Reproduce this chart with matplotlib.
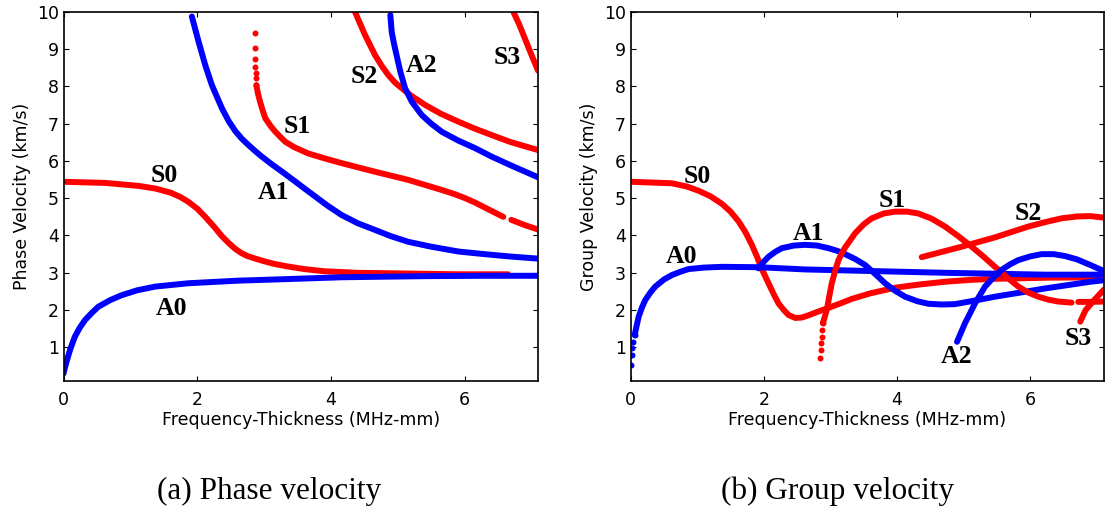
import numpy as np
import matplotlib.pyplot as plt

plt.rcParams['font.family'] = ['DejaVu Sans']

RED = (1.0, 0.0, 0.0)
BLUE = (0.0, 0.0, 1.0)

# ---- phase velocity dispersion curves (fd in MHz-mm, cp in km/s) ----
ph_S0_fd = [0.0, 0.62, 1.12, 1.37, 1.6, 1.75, 1.87, 2.0, 2.12, 2.25, 2.37, 2.47, 2.57, 2.66, 2.75, 2.87,
            3.0, 3.15, 3.32, 3.6, 3.91, 4.4, 5.16, 5.9, 6.65]
ph_S0_v = [5.44, 5.41, 5.33, 5.26, 5.15, 5.03, 4.9, 4.72, 4.5, 4.24, 3.98, 3.8, 3.64, 3.53, 3.45, 3.38,
           3.31, 3.24, 3.18, 3.1, 3.04, 3.0, 2.98, 2.96, 2.96]

ph_A0_fd = [0.0, 0.02, 0.05, 0.1, 0.17, 0.24, 0.32, 0.42, 0.52, 0.7, 0.87, 1.1, 1.37, 1.87, 2.62, 3.32,
            4.16, 5.41, 6.3, 7.1]
ph_A0_v = [0.3, 0.45, 0.65, 0.95, 1.29, 1.52, 1.73, 1.92, 2.09, 2.27, 2.4, 2.53, 2.63, 2.72, 2.79, 2.83,
           2.88, 2.91, 2.92, 2.92]

ph_A1_fd = [1.92, 2.02, 2.12, 2.22, 2.37, 2.47, 2.57, 2.67, 2.77, 2.87, 2.97, 3.1, 3.27, 3.45, 3.62, 3.8,
            3.95, 4.16, 4.4, 4.66, 4.9, 5.16, 5.5, 5.91, 6.3, 6.66, 7.1]
ph_A1_v = [9.87, 9.2, 8.57, 8.03, 7.41, 7.07, 6.8, 6.59, 6.42, 6.26, 6.11, 5.93, 5.71, 5.47, 5.24, 5.0,
           4.8, 4.55, 4.33, 4.15, 3.98, 3.83, 3.7, 3.57, 3.5, 3.44, 3.38]

ph_S1_top_fd = [2.86, 2.865, 2.865, 2.87, 2.875, 2.88, 2.885]
ph_S1_top_v = [9.42, 9.02, 8.73, 8.53, 8.35, 8.21, 8.03]
ph_S1_fd = [2.885, 2.91, 2.94, 2.98, 3.02, 3.1, 3.17, 3.25, 3.32, 3.45, 3.66, 3.9, 4.16, 4.66, 5.16,
            5.4, 5.66, 5.85, 6.01, 6.16, 6.38, 6.58]
ph_S1_v = [8.03, 7.8, 7.59, 7.35, 7.14, 6.93, 6.78, 6.63, 6.51, 6.37, 6.2, 6.07, 5.94, 5.71, 5.49,
           5.36, 5.22, 5.11, 5.0, 4.88, 4.68, 4.5]
ph_S1b_fd = [6.7, 6.9, 7.1]
ph_S1b_v = [4.42, 4.28, 4.16]

ph_S2_fd = [4.36, 4.51, 4.66, 4.76, 4.86, 4.96, 5.06, 5.2, 5.41, 5.65, 5.91, 6.16, 6.41, 6.68, 7.1]
ph_S2_v = [10.0, 9.38, 8.84, 8.55, 8.3, 8.1, 7.95, 7.75, 7.5, 7.26, 7.05, 6.86, 6.69, 6.51, 6.29]

ph_A2_fd = [4.89, 4.9, 4.91, 4.935, 4.96, 5.0, 5.04, 5.11, 5.21, 5.36, 5.5, 5.66, 5.9, 6.16, 6.4, 6.68, 7.1]
ph_A2_v = [9.91, 9.7, 9.46, 9.23, 9.02, 8.7, 8.39, 7.95, 7.59, 7.23, 7.0, 6.78, 6.55, 6.34, 6.12, 5.89, 5.56]

ph_S3_fd = [6.73, 6.82, 6.91, 7.0, 7.1]
ph_S3_v = [10.0, 9.65, 9.25, 8.85, 8.42]

# ---- group velocity dispersion curves ----
gr_S0_fd = [0.0, 0.62, 0.85, 1.02, 1.2, 1.37, 1.5, 1.62, 1.72, 1.82, 1.9, 1.97, 2.07, 2.15, 2.22, 2.3,
            2.37, 2.47, 2.57, 2.67, 2.8, 2.97, 3.15, 3.32, 3.6, 3.97, 4.35, 4.72, 5.1, 5.47, 6.3, 7.1]
gr_S0_v = [5.44, 5.4, 5.31, 5.2, 5.05, 4.85, 4.64, 4.38, 4.1, 3.75, 3.42, 3.1, 2.72, 2.42, 2.18, 2.0,
           1.87, 1.79, 1.8, 1.86, 1.95, 2.06, 2.18, 2.3, 2.45, 2.6, 2.69, 2.76, 2.81, 2.84, 2.87, 2.88]

gr_A0_dots_fd = [0.01, 0.015, 0.025, 0.04, 0.06]
gr_A0_dots_v = [0.53, 0.8, 0.98, 1.15, 1.33]
gr_A0_fd = [0.06, 0.12, 0.17, 0.22, 0.3, 0.37, 0.5, 0.62, 0.75, 0.87, 1.1, 1.37, 1.92, 2.62, 3.32,
            4.72, 6.22, 7.1]
gr_A0_v = [1.33, 1.82, 2.07, 2.27, 2.48, 2.63, 2.82, 2.94, 3.03, 3.1, 3.14, 3.16, 3.15, 3.09, 3.06,
           3.0, 2.95, 2.95]

gr_A1_fd = [1.92, 2.0, 2.07, 2.17, 2.27, 2.45, 2.62, 2.8, 2.97, 3.1, 3.22, 3.37, 3.52, 3.67, 3.82, 3.97,
            4.12, 4.3, 4.47, 4.67, 4.87, 5.15, 5.47, 5.85, 6.22, 6.6, 6.9, 7.1]
gr_A1_v = [3.12, 3.3, 3.43, 3.56, 3.66, 3.73, 3.75, 3.73, 3.66, 3.59, 3.5, 3.37, 3.21, 2.97, 2.72, 2.52,
           2.36, 2.24, 2.17, 2.15, 2.16, 2.25, 2.36, 2.47, 2.58, 2.68, 2.76, 2.8]

gr_S1_dots_fd = [2.85, 2.86, 2.865, 2.87, 2.875, 2.885]
gr_S1_dots_v = [0.71, 0.93, 1.11, 1.29, 1.47, 1.65]
gr_S1_fd = [2.885, 2.92, 2.95, 2.98, 3.02, 3.07, 3.12, 3.17, 3.22, 3.3, 3.37, 3.5, 3.62, 3.8, 3.97,
            4.15, 4.32, 4.52, 4.72, 4.92, 5.12, 5.3, 5.47, 5.65, 5.82, 5.97, 6.12, 6.27, 6.42, 6.62]
gr_S1_v = [1.65, 1.85, 2.05, 2.35, 2.72, 3.05, 3.34, 3.52, 3.68, 3.88, 4.06, 4.3, 4.46, 4.59, 4.64,
           4.64, 4.59, 4.45, 4.24, 3.98, 3.7, 3.43, 3.16, 2.88, 2.63, 2.47, 2.36, 2.28, 2.23, 2.2]
gr_S1b_fd = [6.72, 6.9, 7.1]
gr_S1b_v = [2.22, 2.22, 2.23]

gr_S2_fd = [4.37, 4.97, 5.47, 5.97, 6.25, 6.47, 6.7, 6.9, 7.1]
gr_S2_v = [3.42, 3.7, 3.95, 4.24, 4.37, 4.46, 4.51, 4.52, 4.48]

gr_A2_fd = [4.9, 4.96, 5.02, 5.1, 5.17, 5.25, 5.32, 5.45, 5.57, 5.7, 5.82, 6.0, 6.17, 6.35, 6.52, 6.7,
            6.9, 7.1]
gr_A2_v = [1.15, 1.4, 1.65, 1.93, 2.18, 2.42, 2.63, 2.88, 3.08, 3.23, 3.34, 3.44, 3.5, 3.5, 3.45, 3.36,
           3.21, 3.05]

gr_S3_fd = [6.75, 6.83, 6.95, 7.1]
gr_S3_v = [1.69, 2.0, 2.25, 2.54]

LW = 4.3
MS = 4.3


def curve(ax, fd, v, color):
    ax.plot(fd, v, '-', color=color, lw=LW, solid_capstyle='round', solid_joinstyle='round')


def dots(ax, fd, v, color):
    ax.plot(fd, v, 'o', color=color, ms=MS, mew=0)


def style(ax, ylabel):
    ax.set_xlim(0, 7.1)
    ax.set_ylim(0.1, 10)
    ax.set_xticks([0, 2, 4, 6])
    ax.set_yticks(range(1, 11))
    ax.tick_params(direction='in', length=3.5, width=0.8, top=True, right=True,
                   labelsize=12.5, colors='black')
    ax.tick_params(axis='x', pad=7)
    ax.tick_params(axis='y', pad=3.5)
    for s in ax.spines.values():
        s.set_linewidth(1.2)
    ax.set_xlabel('Frequency-Thickness (MHz-mm)', fontsize=12.5, labelpad=2)
    ax.set_ylabel(ylabel, fontsize=12.5, labelpad=4)


def label(ax, x, y, txt):
    ax.text(x, y, txt, fontsize=18.5, fontweight='bold', family='Liberation Serif',
            ha='center', va='center')


fig = plt.figure(figsize=(11.05, 5.12), dpi=100)
ax1 = fig.add_axes([0.0575, 0.2559, 0.4294, 0.7213])
ax2 = fig.add_axes([0.5707, 0.2559, 0.4280, 0.7213])

# phase velocity
curve(ax1, ph_S0_fd, ph_S0_v, RED)
curve(ax1, ph_A0_fd, ph_A0_v, BLUE)
curve(ax1, ph_A1_fd, ph_A1_v, BLUE)
dots(ax1, ph_S1_top_fd, ph_S1_top_v, RED)
curve(ax1, ph_S1_fd, ph_S1_v, RED)
curve(ax1, ph_S1b_fd, ph_S1b_v, RED)
curve(ax1, ph_S2_fd, ph_S2_v, RED)
curve(ax1, ph_A2_fd, ph_A2_v, BLUE)
curve(ax1, ph_S3_fd, ph_S3_v, RED)
style(ax1, 'Phase Velocity (km/s)')
label(ax1, 1.5, 5.62, 'S0')
label(ax1, 1.61, 2.05, 'A0')
label(ax1, 3.14, 5.14, 'A1')
label(ax1, 3.49, 6.92, 'S1')
label(ax1, 4.5, 8.26, 'S2')
label(ax1, 5.36, 8.57, 'A2')
label(ax1, 6.64, 8.76, 'S3')

# group velocity
curve(ax2, gr_S0_fd, gr_S0_v, RED)
dots(ax2, gr_A0_dots_fd, gr_A0_dots_v, BLUE)
curve(ax2, gr_A0_fd, gr_A0_v, BLUE)
curve(ax2, gr_A1_fd, gr_A1_v, BLUE)
dots(ax2, gr_S1_dots_fd, gr_S1_dots_v, RED)
curve(ax2, gr_S1_fd, gr_S1_v, RED)
curve(ax2, gr_S1b_fd, gr_S1b_v, RED)
curve(ax2, gr_S2_fd, gr_S2_v, RED)
curve(ax2, gr_A2_fd, gr_A2_v, BLUE)
curve(ax2, gr_S3_fd, gr_S3_v, RED)
style(ax2, 'Group Velocity (km/s)')
label(ax2, 1.0, 5.58, 'S0')
label(ax2, 0.77, 3.43, 'A0')
label(ax2, 2.67, 4.06, 'A1')
label(ax2, 3.93, 4.95, 'S1')
label(ax2, 5.97, 4.6, 'S2')
label(ax2, 4.9, 0.75, 'A2')
label(ax2, 6.72, 1.24, 'S3')

fig.text(0.2434, 0.0396, '(a) Phase velocity', fontsize=22.5, family='Liberation Serif', ha='center', va='center')
fig.text(0.7575, 0.0396, '(b) Group velocity', fontsize=22.5, family='Liberation Serif', ha='center', va='center')

fig.savefig('out.png', dpi=100)
